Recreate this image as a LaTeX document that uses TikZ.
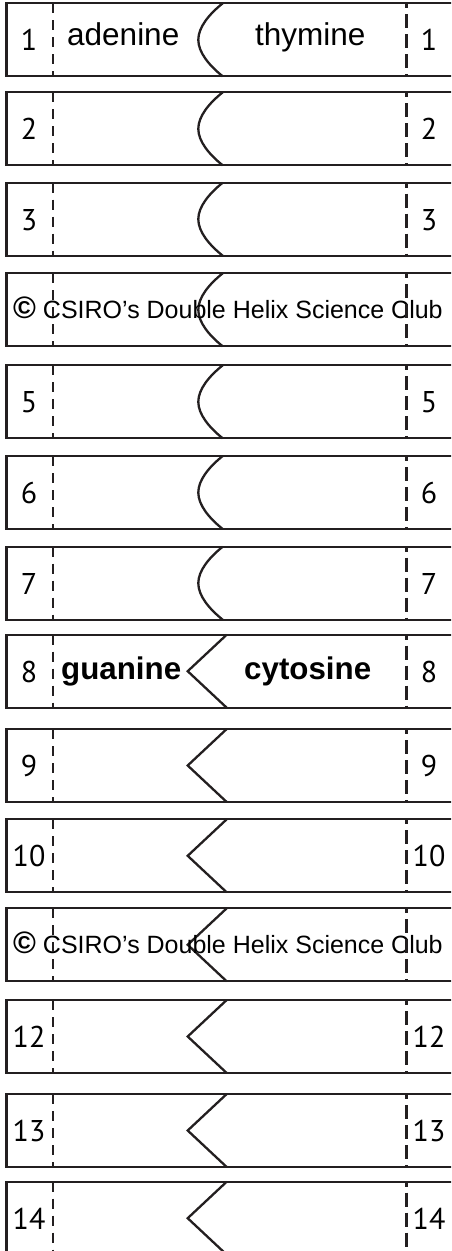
\documentclass[tikz,border=0pt]{standalone}
\usepackage{fontspec}
\setmainfont{Liberation Sans}
\newfontfamily\numfont{PT Sans}
\definecolor{ink}{RGB}{35,31,32}
\begin{document}
\begin{tikzpicture}[x=1pt,y=-1pt,
  frame/.style={draw=ink,line width=2.3pt},
  ldash/.style={draw=ink,line width=1.7pt,dash pattern=on 10pt off 7pt},
  rdash/.style={draw=ink,line width=2.7pt,dash pattern=on 14pt off 6pt,dash phase=9pt},
  num/.style={inner sep=0pt,text=black,font=\numfont\fontsize{30}{30}\selectfont},
  word/.style={inner sep=0pt,anchor=base west,text=black,font=\fontsize{31.5}{31.5}\selectfont},
  bword/.style={inner sep=0pt,anchor=base west,text=black,font=\bfseries\fontsize{31.3}{31.3}\selectfont},
  credit/.style={inner sep=0pt,anchor=base west,text=black,font=\fontsize{25}{25}\selectfont}]
\clip (0,0) rectangle (451,1251);
\foreach \k/\t in {1/3.3,2/92.3,3/182.7,4/273.3,5/365.3,6/456,7/546.7,8/634.7,9/729,10/819.3,11/908.3,12/1000,13/1094,14/1181.7}{
  \pgfmathsetmacro\b{\t+73}
  \pgfmathsetmacro\m{\t+36.5}
  \draw[frame] (452,\t) -- (6.5,\t) -- (6.5,\b) -- (452,\b);
  \ifnum\k<8
    \draw[frame] (222.7,\t) .. controls (209,\t+11) and (198.3,\t+24) .. (198.3,\m)
                 .. controls (198.3,\b-24) and (209,\b-11) .. (222.7,\b);
  \else
    \draw[frame] (226.7,\t) -- (187.7,\m) -- (226.7,\b);
  \fi
  \ifnum\k=4
    \node[credit] (cp\k) at (13,\t+45.5) {{\bfseries\fontsize{31}{31}\selectfont ©} CSIRO’s Double Helix Science Club};
  \else\ifnum\k=11
    \node[credit] (cp\k) at (13,\t+45.5) {{\bfseries\fontsize{31}{31}\selectfont ©} CSIRO’s Double Helix Science Club};
  \else
    \node[num] (nl\k) at (29,\t+37) {\k};
    \node[num] (nr\k) at (429,\t+37) {\k};
  \fi\fi
  \draw[ldash] (53.3,\t) -- (53.3,\b);
  \draw[rdash] (406.7,\t) -- (406.7,\b);
}
\node[word] (ade) at (67,45) {adenine};
\node[word] (thy) at (255,45) {thymine};
\node[bword] (gua) at (61,679.2) {guanine};
\node[bword] (cyt) at (244,679.2) {cytosine};
\end{tikzpicture}
\end{document}
